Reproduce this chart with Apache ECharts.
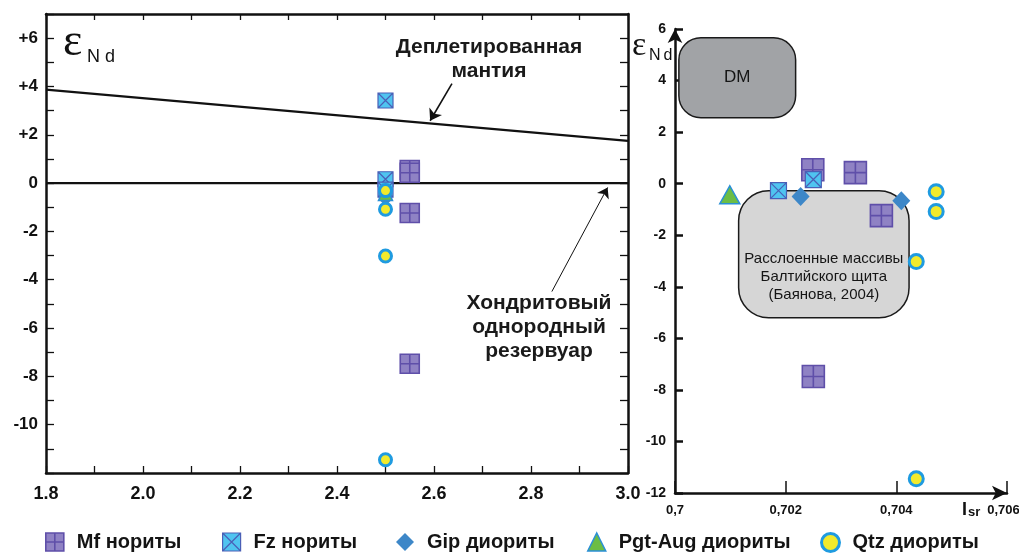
<!DOCTYPE html>
<html><head><meta charset="utf-8">
<script src="https://cdn.jsdelivr.net/npm/echarts@6/dist/echarts.min.js"></script>
<style>html,body{margin:0;padding:0;background:#fff}#c{width:1019px;height:554px}</style>
</head><body><div id="c"></div>
<script>
// ---------- data ----------
const seriesNames = ['Mf нориты', 'Fz нориты', 'Gip диориты', 'Pgt-Aug диориты', 'Qtz диориты'];
// T (Ga) for left chart, eps Nd, (87Sr/86Sr)i for right chart
const mfAge = [2.55, 2.55, 2.55, 2.55];
const mfEps = [0.54, 0.43, -1.24, -7.48];
const mfSr  = [0.70249, 0.70326, 0.70373, 0.70250];
const fzAge = [2.5, 2.5, 2.5];
const fzEps = [3.42, 0.16, -0.27];
const fzSr  = [null, 0.70250, 0.70187];
const gipAge = [2.5, 2.5];
const gipEps = [-0.50, -0.66];
const gipSr  = [0.70227, 0.70409];
const pgtAge = [2.5];
const pgtEps = [-0.43];
const pgtSr  = [0.70099];
const qtzAge = [2.5, 2.5, 2.5, 2.5];
const qtzEps = [-0.31, -1.08, -3.02, -11.45];
const qtzSr  = [0.70472, 0.70472, 0.70436, 0.70436];
// reference lines (left chart)
const dmLineAge = [1.8, 3.0];
const dmLineEps = [3.87, 1.75];
const churLineAge = [1.8, 3.0];
const churLineEps = [0, 0];
// annotation arrows (left chart): [tail, tip]
const arrowDM   = [[2.637, 4.12], [2.592, 2.58]];
const arrowCHUR = [[2.843, -4.49], [2.958, -0.18]];
// fields (right chart)
const fieldNames = ['DM', 'Расслоенные массивы\nБалтийского щита\n(Баянова, 2004)'];
const fieldSrMin  = [0.70007, 0.70115];
const fieldSrMax  = [0.70218, 0.70423];
const fieldEpsMin = [2.56, -5.20];
const fieldEpsMax = [5.66, -0.27];
// tick labels
const leftXTicks  = ['1.8', '2.0', '2.2', '2.4', '2.6', '2.8', '3.0'];
const leftYTicks  = ['+6', '+4', '+2', '0', '-2', '-4', '-6', '-8', '-10'];
const rightXTicks = ['0,7', '0,702', '0,704', '0,706'];
const rightYTicks = ['6', '4', '2', '0', '-2', '-4', '-6', '-8', '-10', '-12'];

// ---------- helpers ----------
const pair = (xs, ys) => xs.map((x, i) => [x, ys[i]]).filter(p => p[0] != null);
const MF_PATH = 'path://M0,0H20V20H0Z M10,0V20 M0,10H20';
const FZ_PATH = 'path://M0,0H20V20H0Z M0,0L20,20 M20,0L0,20';
const SANS = '"Liberation Sans", Arial, sans-serif';

const styles = {
  mf:  { color: '#8f82c4', borderColor: '#5f4fa9', borderWidth: 1.6 },
  fz:  { color: '#4fc4f0', borderColor: '#4a5fb6', borderWidth: 1.2 },
  gip: { color: '#3d87c8' },
  pgt: { color: '#6cbd45', borderColor: '#2a8fd6', borderWidth: 1.5 },
  qtz: { color: '#f2ea2c', borderColor: '#1f9be0', borderWidth: 3 }
};

function scatter(name, sym, size, data, st, xi, yi) {
  return { type: 'scatter', name, symbol: sym, symbolSize: size, data, itemStyle: Object.assign({ opacity: 1 }, st),
           xAxisIndex: xi, yAxisIndex: yi, z: 3, silent: true };
}

const leftAxisLine = { show: true, onZero: false, lineStyle: { color: '#111', width: 2.5 } };

const option = {
  animation: false,
  backgroundColor: '#fff',
  grid: [
    { left: 46, top: 14, width: 582, height: 459, containLabel: false, outerBoundsMode: 'none' },
    { left: 675, top: 29, width: 332, height: 464, containLabel: false, outerBoundsMode: 'none' }
  ],
  xAxis: [
    { gridIndex: 0, type: 'value', min: 1.8, max: 3.0, interval: 0.1, position: 'bottom',
      axisLine: leftAxisLine, splitLine: { show: false },
      axisTick: { inside: true, length: 7, lineStyle: { color: '#111', width: 1.3 } },
      axisLabel: { margin: 12, fontSize: 18, fontWeight: 'bold', fontFamily: SANS, color: '#111',
        formatter: v => { const s = (Math.round(v * 10) / 10).toFixed(1); return leftXTicks.includes(s) ? s : ''; } } },
    { gridIndex: 0, type: 'value', min: 1.8, max: 3.0, interval: 0.1, position: 'top',
      axisLine: leftAxisLine, splitLine: { show: false },
      axisTick: { inside: true, length: 6, lineStyle: { color: '#111', width: 1.3 } },
      axisLabel: { show: false } },
    { gridIndex: 1, type: 'value', min: 0.7, max: 0.706, interval: 0.002,
      axisLine: { show: true, onZero: false, symbol: ['none', 'arrow'], symbolSize: [11, 15], lineStyle: { color: '#111', width: 2.5 } },
      splitLine: { show: false },
      axisTick: { inside: true, length: 12, lineStyle: { color: '#111', width: 1.5 } },
      axisLabel: { margin: 11, fontSize: 13, fontWeight: 'bold', fontFamily: SANS, color: '#111',
        rich: { last: { fontSize: 13, fontWeight: 'bold', fontFamily: SANS, color: '#111', padding: [0, 7, 0, 0] } },
        formatter: v => {
          const s = String(+v.toFixed(3)).replace('.', ',');
          if (!rightXTicks.includes(s)) return '';
          return s === rightXTicks[rightXTicks.length - 1] ? '{last|' + s + '}' : s;
        } } }
  ],
  yAxis: [
    { gridIndex: 0, type: 'value', min: -12, max: 7, interval: 1, position: 'left',
      axisLine: leftAxisLine, splitLine: { show: false },
      axisTick: { inside: true, length: 8, lineStyle: { color: '#111', width: 1.3 } },
      axisLabel: { margin: 8, fontSize: 17, fontWeight: 'bold', fontFamily: SANS, color: '#111',
        formatter: v => { const s = v > 0 ? '+' + v : String(v); return leftYTicks.includes(s) ? s : ''; } } },
    { gridIndex: 0, type: 'value', min: -12, max: 7, interval: 1, position: 'right',
      axisLine: leftAxisLine, splitLine: { show: false },
      axisTick: { inside: true, length: 8, lineStyle: { color: '#111', width: 1.3 } },
      axisLabel: { show: false } },
    { gridIndex: 1, type: 'value', min: -12, max: 6, interval: 2,
      axisLine: { show: true, onZero: false, symbol: ['none', 'arrow'], symbolSize: [11, 14], lineStyle: { color: '#111', width: 2.5 } },
      splitLine: { show: false },
      axisTick: { inside: true, length: 8, lineStyle: { color: '#111', width: 2.5 } },
      axisLabel: { margin: 9, fontSize: 14, fontWeight: 'bold', fontFamily: SANS, color: '#111',
        formatter: v => { const s = String(Math.round(v)); return rightYTicks.includes(s) ? s : ''; } } }
  ],
  legend: seriesNames.map((n, i) => ({
    data: [{ name: n, itemStyle: i === 2 ? { borderWidth: 0 } : { borderWidth: [1.6, 1.2, 0, 1.5, 3][i] } }],
    left: [45, 222, 396, 587, 820][i], top: 532, padding: 0,
    itemWidth: 18, itemHeight: 18, selectedMode: false,
    textStyle: { fontSize: 20, fontWeight: 'bold', fontFamily: SANS, color: '#141414', padding: [0, 0, 0, 8] }
  })),
  series: [
    // reference lines
    { type: 'line', name: 'DM line', data: pair(dmLineAge, dmLineEps), xAxisIndex: 0, yAxisIndex: 0,
      showSymbol: false, symbol: 'none', lineStyle: { color: '#111', width: 2.3 }, z: 2, silent: true },
    { type: 'line', name: 'CHUR line', data: pair(churLineAge, churLineEps), xAxisIndex: 0, yAxisIndex: 0,
      showSymbol: false, symbol: 'none', lineStyle: { color: '#111', width: 2.3 }, z: 2, silent: true },
    { type: 'lines', name: 'arrows1', coordinateSystem: 'cartesian2d', xAxisIndex: 0, yAxisIndex: 0,
      symbol: ['none', 'arrow'], symbolSize: 11, lineStyle: { color: '#111', width: 1.6, opacity: 1 },
      data: [{ coords: arrowDM }], z: 4, silent: true },
    { type: 'lines', name: 'arrows2', coordinateSystem: 'cartesian2d', xAxisIndex: 0, yAxisIndex: 0,
      symbol: ['none', 'arrow'], symbolSize: 10, lineStyle: { color: '#111', width: 1, opacity: 1 },
      data: [{ coords: arrowCHUR }], z: 4, silent: true },
    // fields on right chart
    { type: 'custom', name: 'fields', xAxisIndex: 2, yAxisIndex: 2, clip: false, z: 1, silent: true,
      data: fieldNames.map((n, i) => [fieldSrMin[i], fieldEpsMin[i], fieldSrMax[i], fieldEpsMax[i], i]),
      renderItem: (params, api) => {
        const i = api.value(4);
        const tl = api.coord([api.value(0), api.value(3)]);
        const br = api.coord([api.value(2), api.value(1)]);
        const w = br[0] - tl[0], h = br[1] - tl[1];
        return { type: 'group', children: [
          { type: 'rect', shape: { x: tl[0], y: tl[1], width: w, height: h, r: i === 0 ? 22 : 30 },
            style: { fill: i === 0 ? '#a1a3a6' : '#d6d6d6', stroke: '#1a1a1a', lineWidth: 1.5 } },
          { type: 'text', x: tl[0] + w / 2, y: tl[1] + (i === 0 ? h / 2 : h * 0.68),
            style: { text: fieldNames[i], align: 'center', verticalAlign: 'middle', textAlign: 'center', textVerticalAlign: 'middle',
                     font: (i === 0 ? '17px ' : '15px ') + SANS, fill: '#151515', lineHeight: 18 } }
        ] };
      } },
    // left chart points
    scatter(seriesNames[0], MF_PATH, 19, pair(mfAge, mfEps), styles.mf, 0, 0),
    scatter(seriesNames[1], FZ_PATH, 15, pair(fzAge, fzEps), styles.fz, 0, 0),
    scatter(seriesNames[2], 'diamond', 14, pair(gipAge, gipEps), styles.gip, 0, 0),
    scatter(seriesNames[3], 'triangle', 14, pair(pgtAge, pgtEps), styles.pgt, 0, 0),
    scatter(seriesNames[4], 'circle', 12, pair(qtzAge, qtzEps), styles.qtz, 0, 0),
    // right chart points
    scatter(seriesNames[0], MF_PATH, 22, pair(mfSr, mfEps), styles.mf, 2, 2),
    scatter(seriesNames[1], FZ_PATH, 16, pair(fzSr, fzEps), styles.fz, 2, 2),
    scatter(seriesNames[2], 'diamond', [18, 19], pair(gipSr, gipEps), styles.gip, 2, 2),
    scatter(seriesNames[3], 'triangle', [20, 18], pair(pgtSr, pgtEps), styles.pgt, 2, 2),
    scatter(seriesNames[4], 'circle', 14, pair(qtzSr, qtzEps), styles.qtz, 2, 2)
  ],
  graphic: [
    { type: 'text', x: 489, y: 59, silent: true,
      style: { text: 'Деплетированная\nмантия', font: 'bold 21px ' + SANS, fill: '#1a1a1a', lineHeight: 24,
               align: 'center', verticalAlign: 'middle', textAlign: 'center', textVerticalAlign: 'middle' } },
    { type: 'text', x: 539, y: 327, silent: true,
      style: { text: 'Хондритовый\nоднородный\nрезервуар', font: 'bold 21px ' + SANS, fill: '#1a1a1a', lineHeight: 24,
               align: 'center', verticalAlign: 'middle', textAlign: 'center', textVerticalAlign: 'middle' } },
    // eps Nd labels
    { type: 'text', x: 63, y: 43, silent: true,
      style: { text: 'ε', font: '46px "Liberation Serif", serif', fill: '#111', align: 'left', verticalAlign: 'middle', textAlign: 'left', textVerticalAlign: 'middle' } },
    { type: 'text', x: 87, y: 57, silent: true,
      style: { text: '{n|N}{d|d}', fill: '#111', align: 'left', verticalAlign: 'middle', textAlign: 'left', textVerticalAlign: 'middle',
               rich: { n: { font: '18px ' + SANS, padding: [0, 5, 0, 0] }, d: { font: '18px ' + SANS } } } },
    { type: 'text', x: 632, y: 46, silent: true,
      style: { text: 'ε', font: '34px "Liberation Serif", serif', fill: '#111', align: 'left', verticalAlign: 'middle', textAlign: 'left', textVerticalAlign: 'middle' } },
    { type: 'text', x: 649, y: 56, silent: true,
      style: { text: '{n|N}{d|d}', fill: '#111', align: 'left', verticalAlign: 'middle', textAlign: 'left', textVerticalAlign: 'middle',
               rich: { n: { font: '16px ' + SANS, padding: [0, 3, 0, 0] }, d: { font: '16px ' + SANS } } } },
    // I sr label
    { type: 'text', x: 962, y: 501, silent: true,
      style: { text: '{i|I}{s|sr}', fill: '#111', align: 'left', verticalAlign: 'top', textAlign: 'left', textVerticalAlign: 'top',
               rich: { i: { font: 'bold 18px ' + SANS, lineHeight: 18, verticalAlign: 'top', padding: [0, 1, 0, 0] },
                       s: { font: 'bold 13px ' + SANS, lineHeight: 8, verticalAlign: 'bottom' } } } }
  ]
};

const chart = echarts.init(document.getElementById('c'), null, { renderer: 'canvas' });
chart.setOption(option);
</script>
</body></html>
